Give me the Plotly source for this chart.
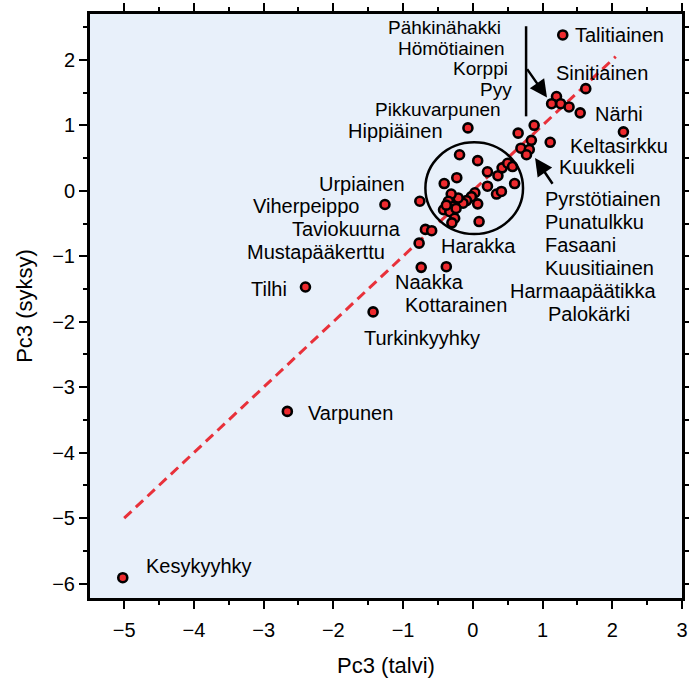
import plotly.graph_objects as go

# Pc3 scores of bird species: winter (talvi) vs autumn (syksy)
pc3_talvi = [
    -5.02, -2.66, -2.40, -1.43, -1.26,
    1.29, 1.62, 1.54, 1.20, 1.13, 1.26, 1.38, 2.16,
    -0.07, 0.65, 0.88, 1.11, 0.84, 0.69, 0.81, 0.77,
    -0.76, -0.68, -0.59, -0.77, -0.74, -0.38,
    -0.19, 0.07, 0.21, 0.36, 0.42, 0.50, 0.57, 0.60, 0.21, 0.34, 0.41,
    -0.23, -0.41, 0.03, -0.02, -0.09, -0.14, 0.07, -0.21, -0.31, -0.35,
    -0.28, -0.42, -0.33, -0.26, -0.30, 0.09, -0.38, -0.24,
]
pc3_syksy = [
    -5.91, -3.37, -1.47, -1.85, -0.21,
    2.38, 1.56, 1.19, 1.44, 1.33, 1.33, 1.28, 0.90,
    0.96, 0.88, 1.00, 0.74, 0.77, 0.65, 0.63, 0.55,
    -0.16, -0.59, -0.61, -0.80, -1.17, -1.16,
    0.55, 0.46, 0.29, 0.23, 0.35, 0.42, 0.37, 0.11, 0.07, -0.05, -0.01,
    0.20, 0.11, -0.03, -0.09, -0.15, -0.19, -0.20, -0.11, -0.05, -0.16,
    -0.24, -0.29, -0.32, -0.42, -0.49, -0.47, -0.22, -0.27,
]

# Species labels: name, position, side the text grows from, font size
label_names = [
    "Pähkinähakki", "Hömötiainen", "Korppi", "Pyy", "Pikkuvarpunen", "Hippiäinen",
    "Urpiainen", "Viherpeippo", "Taviokuurna", "Mustapääkerttu", "Tilhi",
    "Talitiainen", "Sinitiainen", "Närhi", "Keltasirkku", "Kuukkeli",
    "Pyrstötiainen", "Punatulkku", "Fasaani", "Kuusitiainen", "Harmaapäätikka",
    "Palokärki", "Harakka", "Naakka", "Kottarainen", "Turkinkyyhky",
    "Varpunen", "Kesykyyhky",
]
label_x = [
    0.44, 0.49, 0.54, 0.59, 0.43, -0.40,
    -0.95, -1.61, -1.00, -1.23, -2.64,
    1.44, 1.17, 1.72, 1.37, 1.21,
    1.01, 1.01, 1.01, 1.01, 0.50,
    1.05, -0.49, -1.15, -1.00, -1.59,
    -2.39, -4.72,
]
label_y = [
    2.49, 2.18, 1.866, 1.553, 1.239, 0.91,
    0.10, -0.23, -0.59, -0.93, -1.50,
    2.38, 1.80, 1.18, 0.69, 0.36,
    -0.12, -0.47, -0.83, -1.18, -1.53,
    -1.88, -0.85, -1.40, -1.74, -2.25,
    -3.40, -5.73,
]
label_side = ["right"] * 11 + ["left"] * 17
label_size = [19] * 5 + [20] * 23

# Reference line y = x
ref_line_x = [-5.0, 2.05]
ref_line_y = [-5.0, 2.05]

FONT = "Liberation Sans, Arial, sans-serif"

fig = go.Figure()

fig.add_trace(go.Scatter(
    x=ref_line_x, y=ref_line_y, mode="lines",
    line=dict(color="#e8313a", width=3, dash="10px,6px"),
    hoverinfo="skip", showlegend=False,
))

fig.add_trace(go.Scatter(
    x=pc3_talvi, y=pc3_syksy, mode="markers",
    marker=dict(size=9, color="#ee2a2e", line=dict(color="black", width=2.6)),
    showlegend=False,
))

for name, lx, ly, side, fs in zip(label_names, label_x, label_y, label_side, label_size):
    fig.add_annotation(
        x=lx, y=ly, xref="x", yref="y", text=name, showarrow=False,
        xanchor=side, yanchor="middle",
        font=dict(family=FONT, size=fs, color="black"),
    )

# Circle around the dense centre group
fig.add_shape(type="circle", xref="x", yref="y",
              x0=-0.68, x1=0.72, y0=-0.66, y1=0.74,
              line=dict(color="black", width=2.5))

# Bracket line for the stacked upper labels
fig.add_shape(type="line", xref="x", yref="y",
              x0=0.764, x1=0.764, y0=1.137, y1=2.513,
              line=dict(color="black", width=2.5))

# Pointer arrows
arrows = [((1.064, 1.423), (0.764, 1.881)), ((0.893, 0.500), (1.158, 0.084))]
for (hx, hy), (tx, ty) in arrows:
    fig.add_annotation(
        x=hx, y=hy, ax=tx, ay=ty, xref="x", yref="y", axref="x", ayref="y",
        text="", showarrow=True, arrowhead=2, arrowsize=1.4, arrowwidth=2.5,
        arrowcolor="black", standoff=0, startstandoff=0,
    )

axis_common = dict(
    showline=True, linecolor="black", linewidth=3, mirror="allticks",
    ticks="outside", ticklen=8, tickwidth=2, tickcolor="black",
    showgrid=False, zeroline=False, automargin=False,
    tickfont=dict(family=FONT, size=20, color="black"),
    minor=dict(ticks="outside", ticklen=4, tickwidth=2, tickcolor="black", showgrid=False),
)

fig.update_xaxes(
    range=[-5.49, 3.0], tick0=-5, dtick=1, minor_dtick=0.5, ticklabelstandoff=4,
    title=dict(text="Pc3 (talvi)", font=dict(family=FONT, size=22, color="black"), standoff=18),
    **axis_common,
)
fig.update_yaxes(
    range=[-6.22, 2.70], tick0=-6, dtick=1, minor_dtick=0.5,
    title=dict(text="Pc3 (syksy)", font=dict(family=FONT, size=22, color="black"), standoff=14),
    **axis_common,
)

fig.update_layout(
    width=689, height=684,
    margin=dict(l=90, r=7, t=14, b=86),
    plot_bgcolor="#e8f0fa", paper_bgcolor="white",
)

fig.write_html("out.html")
